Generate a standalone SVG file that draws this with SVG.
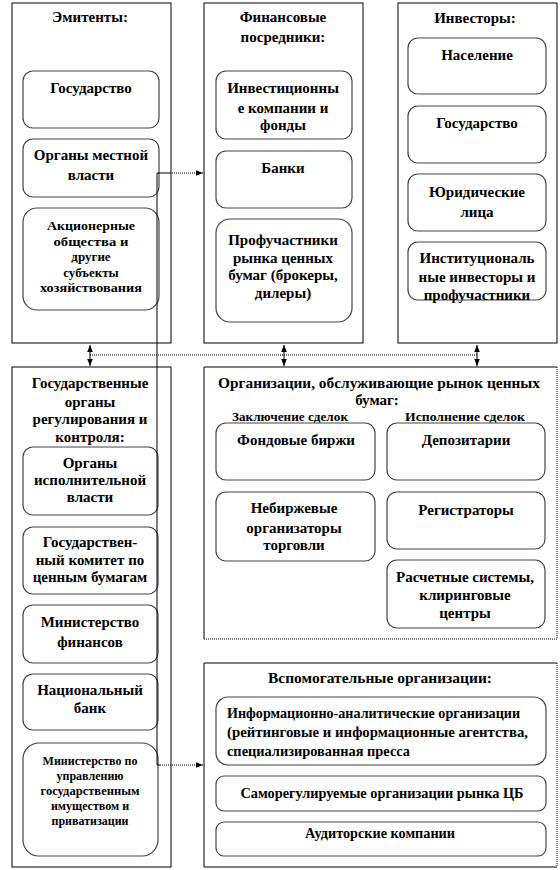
<svg xmlns="http://www.w3.org/2000/svg" width="560" height="870" viewBox="0 0 560 870">
<style>
text{font-family:"Liberation Serif","Times New Roman",Tinos,serif;font-weight:bold;font-size:15px;fill:#000;text-anchor:middle}
.l{text-anchor:start}
.s{font-size:12px}
.m{font-size:13px}
.outer{fill:#fff;stroke:#000;stroke-width:1}
.inner{fill:#fff;stroke:#444;stroke-width:1.2}
.ln{fill:none;stroke:#000;stroke-width:1}
.dot{fill:none;stroke:#000;stroke-width:1;stroke-dasharray:1 1}
</style>
<defs>
<marker id="ah" viewBox="0 0 10 10" refX="10" refY="5" markerWidth="7" markerHeight="7" orient="auto-start-reverse" markerUnits="userSpaceOnUse">
<path d="M0,1 L10,5 L0,9 Z" fill="#000"/>
</marker>
</defs>

<g id="emitenty">
<rect class="outer" x="12" y="3" width="159" height="340"/>
<text x="90" y="22">Эмитенты:</text>
<rect class="inner" x="23" y="71" width="136" height="57" rx="10"/>
<text x="91" y="93">Государство</text>
<rect class="inner" x="23" y="139" width="136" height="58" rx="10"/>
<text x="91" y="160">Органы  местной</text>
<text x="91" y="180">власти</text>
<rect class="inner" x="23" y="208" width="136" height="102" rx="14"/>
<text class="m" x="91" y="230" textLength="88" lengthAdjust="spacingAndGlyphs">Акционерные</text>
<text class="m" x="91" y="245.5" textLength="75" lengthAdjust="spacingAndGlyphs">общества и</text>
<text class="m" x="91" y="261">другие</text>
<text class="m" x="91" y="276.5">субъекты</text>
<text class="m" x="91" y="292" textLength="102" lengthAdjust="spacingAndGlyphs">хозяйствования</text>
</g>

<g id="posredniki">
<rect class="outer" x="204" y="3" width="159" height="340"/>
<text x="283" y="22">Финансовые</text>
<text x="283" y="42">посредники:</text>
<rect class="inner" x="216" y="71" width="136" height="68" rx="10"/>
<text x="283" y="93">Инвестиционны</text>
<text x="283" y="113">е компании  и</text>
<text x="283" y="130">фонды</text>
<rect class="inner" x="216" y="151" width="136" height="57" rx="10"/>
<text x="283" y="173">Банки</text>
<rect class="inner" x="216" y="219" width="136" height="103" rx="14"/>
<text x="283" y="245">Профучастники</text>
<text x="283" y="263">рынка  ценных</text>
<text x="283" y="280">бумаг (брокеры,</text>
<text x="283" y="298">дилеры)</text>
</g>

<g id="investory">
<rect class="outer" x="398" y="3" width="159" height="340"/>
<text x="475" y="23">Инвесторы:</text>
<rect class="inner" x="408" y="38" width="138" height="56" rx="10"/>
<text x="477" y="60">Население</text>
<rect class="inner" x="408" y="106" width="138" height="57" rx="10"/>
<text x="477" y="128">Государство</text>
<rect class="inner" x="408" y="174" width="138" height="57" rx="10"/>
<text x="477" y="197">Юридические</text>
<text x="477" y="217">лица</text>
<rect class="inner" x="408" y="242" width="138" height="58" rx="10"/>
<text x="477" y="263">Институциональ</text>
<text x="477" y="282">ные инвесторы  и</text>
<text x="477" y="300">профучастники</text>
</g>

<g id="gosorgany">
<rect class="outer" x="12" y="367" width="159" height="500"/>
<text x="90" y="388">Государственные</text>
<text x="90" y="407">органы</text>
<text x="90" y="424">регулирования  и</text>
<text x="90" y="442">контроля:</text>
<rect class="inner" x="23" y="447" width="135" height="68" rx="10"/>
<text x="90" y="468">Органы</text>
<text x="90" y="485">исполнительной</text>
<text x="90" y="502">власти</text>
<rect class="inner" x="23" y="527" width="135" height="67" rx="10"/>
<text x="90" y="547">Государствен-</text>
<text x="90" y="565">ный  комитет по</text>
<text x="90" y="582">ценным  бумагам</text>
<rect class="inner" x="23" y="605" width="135" height="58" rx="10"/>
<text x="90" y="627">Министерство</text>
<text x="90" y="647">финансов</text>
<rect class="inner" x="23" y="674" width="135" height="56" rx="10"/>
<text x="90" y="695">Национальный</text>
<text x="90" y="713">банк</text>
<rect class="inner" x="23" y="743" width="135" height="113" rx="16"/>
<text class="s" x="90" y="765">Министерство по</text>
<text class="s" x="90" y="780">управлению</text>
<text class="s" x="90" y="795" textLength="99" lengthAdjust="spacingAndGlyphs">государственным</text>
<text class="s" x="90" y="810">имуществом и</text>
<text class="s" x="90" y="825">приватизации</text>
</g>

<g id="organizacii">
<rect x="204" y="367" width="353" height="272" fill="#fff" stroke="none"/>
<path class="ln" d="M557,367 H204 V639"/>
<path class="dot" d="M557,367 V639 H204"/>
<text x="379" y="388" textLength="322" lengthAdjust="spacingAndGlyphs">Организации, обслуживающие  рынок ценных</text>
<text x="377" y="405">бумаг:</text>
<text class="m" x="290" y="421" textLength="116" lengthAdjust="spacingAndGlyphs">Заключение  сделок</text>
<text class="m" x="465" y="421" textLength="120" lengthAdjust="spacingAndGlyphs">Исполнение  сделок</text>
<rect class="inner" x="216" y="423" width="159" height="57" rx="10"/>
<text x="296" y="445">Фондовые  биржи</text>
<rect class="inner" x="216" y="492" width="159" height="69" rx="10"/>
<text x="294" y="513">Небиржевые</text>
<text x="294" y="533">организаторы</text>
<text x="294" y="550">торговли</text>
<rect class="inner" x="387" y="423" width="158" height="57" rx="10"/>
<text x="466" y="445">Депозитарии</text>
<rect class="inner" x="387" y="492" width="158" height="57" rx="10"/>
<text x="466" y="515">Регистраторы</text>
<rect class="inner" x="387" y="560" width="158" height="68" rx="10"/>
<text x="465" y="582">Расчетные системы,</text>
<text x="465" y="600">клиринговые</text>
<text x="465" y="618">центры</text>
</g>

<g id="vspomogatelnye">
<rect x="204" y="663" width="353" height="204" fill="#fff" stroke="none"/>
<path class="ln" d="M557,663 H204 V867 H557"/>
<path class="dot" d="M557,663 V867"/>
<text x="380" y="683" textLength="224" lengthAdjust="spacingAndGlyphs">Вспомогательные организации:</text>
<rect class="inner" x="216" y="697" width="330" height="68" rx="12"/>
<text class="l" x="227" y="718" textLength="293" lengthAdjust="spacingAndGlyphs">Информационно-аналитические  организации</text>
<text class="l" x="227" y="737" textLength="301" lengthAdjust="spacingAndGlyphs">(рейтинговые  и информационные  агентства,</text>
<text class="l" x="227" y="756" textLength="183" lengthAdjust="spacingAndGlyphs">специализированная  пресса</text>
<rect class="inner" x="216" y="776" width="330" height="35" rx="8"/>
<text x="382" y="798" textLength="283" lengthAdjust="spacingAndGlyphs">Саморегулируемые  организации  рынка ЦБ</text>
<rect class="inner" x="216" y="822" width="330" height="34" rx="8"/>
<text x="380" y="838" textLength="150" lengthAdjust="spacingAndGlyphs">Аудиторские  компании</text>
</g>

<g id="connectors">
<path class="ln" d="M157,765 V173 H170"/>
<path class="dot" d="M170,173 H203" marker-end="url(#ah)"/>
<path class="ln" d="M157,765 H160"/>
<path class="dot" d="M160,765 H203" marker-end="url(#ah)"/>
<path class="dot" d="M90,355 H477"/>
<path class="ln" d="M90,345 V366" marker-start="url(#ah)" marker-end="url(#ah)"/>
<path class="ln" d="M284,345 V366" marker-start="url(#ah)" marker-end="url(#ah)"/>
<path class="ln" d="M477,345 V366" marker-start="url(#ah)" marker-end="url(#ah)"/>
</g>
</svg>
